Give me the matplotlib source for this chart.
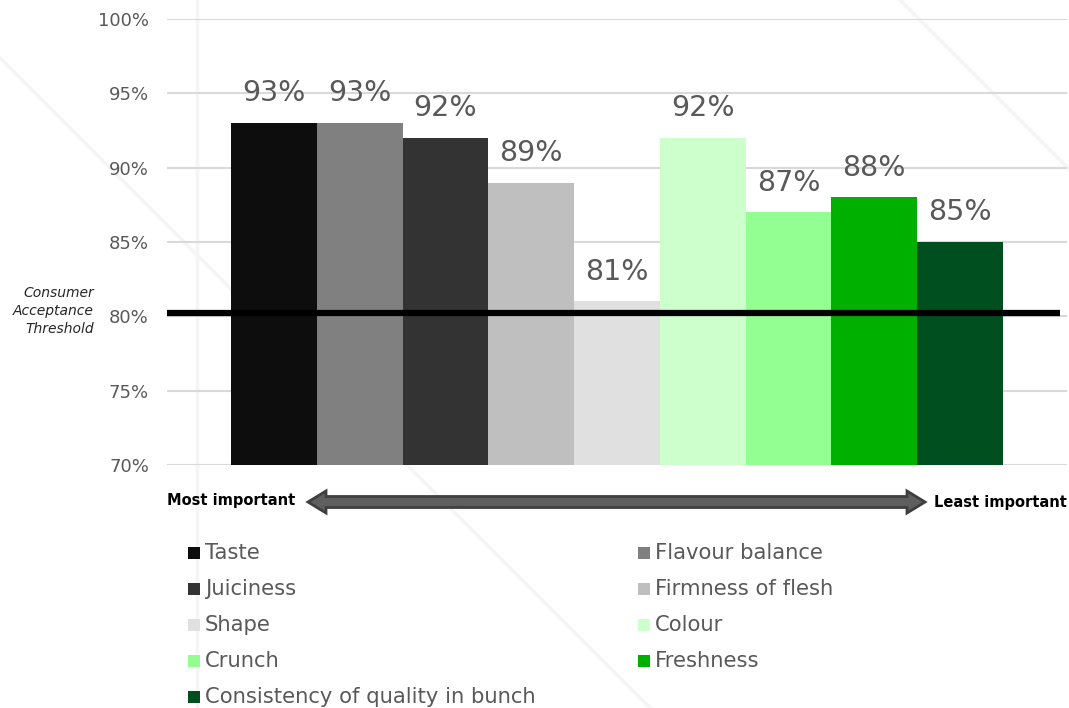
import matplotlib
matplotlib.use("Agg")
import matplotlib.pyplot as plt
from matplotlib.lines import Line2D
from matplotlib.patches import Polygon, Rectangle

plt.rcParams['font.family'] = ['DejaVu Sans']

# data
attributes = ["Taste", "Flavour balance", "Juiciness", "Firmness of flesh", "Shape",
              "Colour", "Crunch", "Freshness", "Consistency of quality in bunch"]
acceptance = [93, 93, 92, 89, 81, 92, 87, 88, 85]
colors = ["#0d0d0d", "#808080", "#333333", "#bfbfbf", "#e0e0e0",
          "#ccffcc", "#93ff93", "#00b000", "#00501f"]
yticks = [70, 75, 80, 85, 90, 95, 100]
threshold = 80.2

W, H = 1069, 708
fig = plt.figure(figsize=(W / 100, H / 100), dpi=100)


def px(x, y):
    # pixel position (from top-left) -> figure fraction
    return x / W, 1 - y / H


# faint watermark lines in the background
for (x0, y0), (x1, y1) in [((0, 58), (650, 708)), ((900, 0), (1069, 169)),
                           ((197, 0), (197, 708))]:
    a, b = px(x0, y0), px(x1, y1)
    fig.add_artist(Line2D([a[0], b[0]], [a[1], b[1]], color="#f5f5f5", lw=2.5, zorder=0))

left, bottom = px(167, 465)
right, top = px(1067, 19)
ax = fig.add_axes([left, bottom, right - left, top - bottom])
ax.set_facecolor("none")

x = range(len(attributes))
ax.bar(x, [v - 70 for v in acceptance], bottom=70, width=1.0, color=colors, zorder=2)
for i, v in enumerate(acceptance):
    ax.text(i, v + 2.0, f"{v}%", ha="center", va="center", fontsize=20.5, color="#595959", zorder=4)

ax.set_xlim(-1.246, 9.246)
ax.set_ylim(70, 100)
ax.set_yticks(yticks)
ax.set_yticklabels([f"{t}%" for t in yticks], fontsize=13, color="#595959")
ax.set_xticks([])
ax.tick_params(axis="y", length=0, pad=13)
ax.grid(True, axis="y", color="#d9d9d9", lw=1.5, zorder=0)
for s in ax.spines.values():
    s.set_visible(False)

# consumer acceptance threshold
ax.plot([-1.246, 9.17], [threshold, threshold], color="black", lw=4.5, zorder=3,
        solid_capstyle="butt")
fig.text(*px(94, 311), "Consumer\nAcceptance\nThreshold", ha="right", va="center",
         fontsize=10, style="italic", color="#262626", linespacing=1.35)

# importance arrow
ty, sh, hh = 502, 5.5, 11
pts = [(308, ty), (326, ty - hh), (326, ty - sh), (907, ty - sh), (907, ty - hh),
       (925, ty), (907, ty + hh), (907, ty + sh), (326, ty + sh), (326, ty + hh)]
fig.add_artist(Polygon([px(*p) for p in pts], closed=True, transform=fig.transFigure,
                       facecolor="#5f5f5f", edgecolor="#3f3f3f", lw=2, zorder=3))
fig.text(*px(167, 501), "Most important", ha="left", va="center", fontsize=10.5,
         fontweight="bold", color="black")
fig.text(*px(1067, 502), "Least important", ha="right", va="center", fontsize=10.5,
         fontweight="bold", color="black")

# legend, filled row by row
for i, (name, c) in enumerate(zip(attributes, colors)):
    row, col = divmod(i, 2)
    mx = 188 if col == 0 else 638
    my = 553 + 36 * row
    x0, y0 = px(mx, my + 6)
    fig.add_artist(Rectangle((x0, y0), 12 / W, 12 / H, transform=fig.transFigure,
                             facecolor=c, edgecolor="none"))
    fig.text(*px(mx + 17, my), name, ha="left", va="center", fontsize=15.2, color="#595959")

fig.savefig("out.png", dpi=100)
